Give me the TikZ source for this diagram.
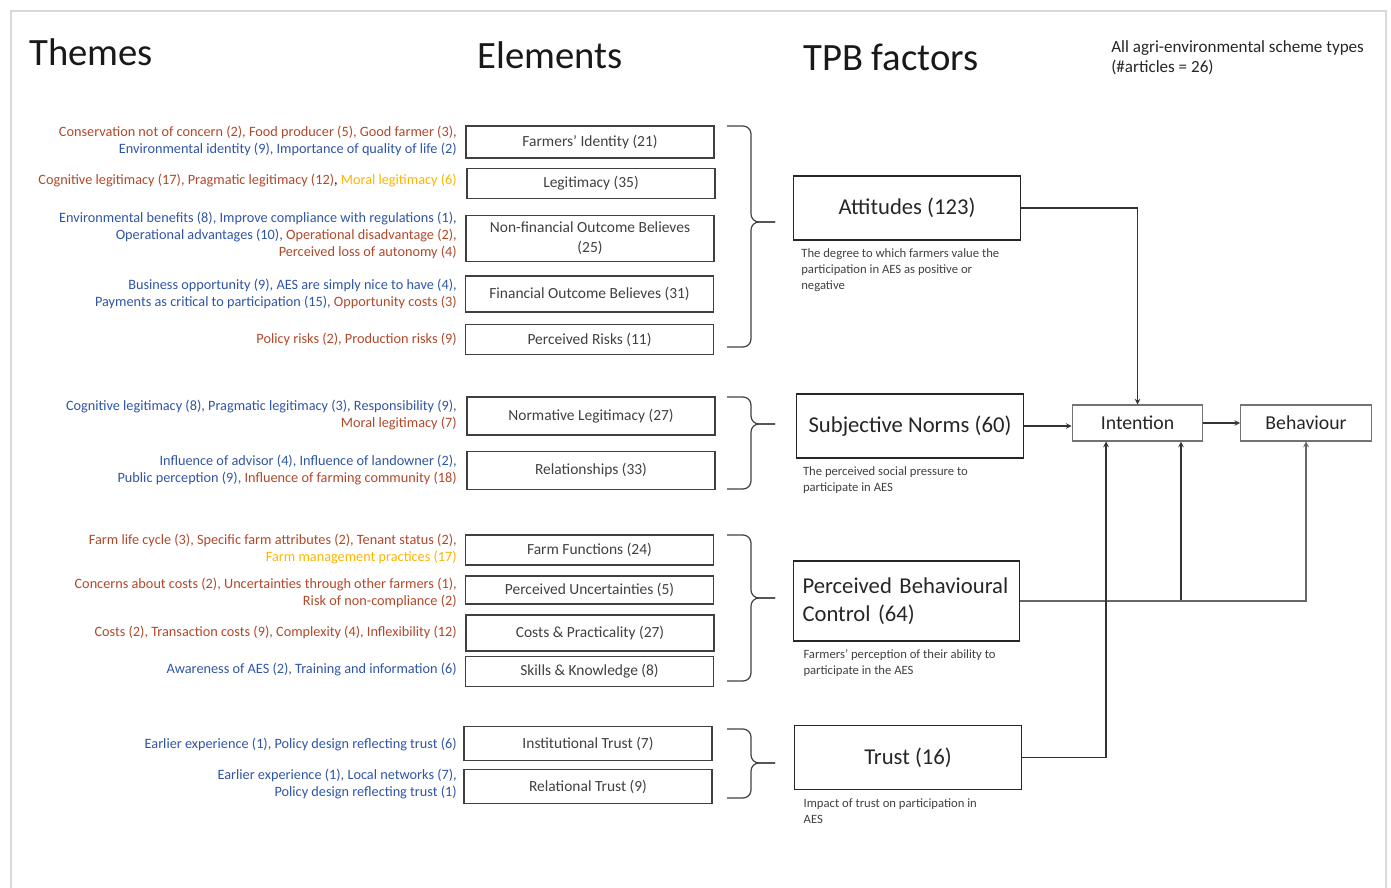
\documentclass[tikz,border=0pt]{standalone}
\usepackage{fontspec}
\setmainfont{Carlito}
\usetikzlibrary{arrows}
\definecolor{brn}{RGB}{176,72,42}
\definecolor{blu}{RGB}{47,85,165}
\definecolor{gld}{RGB}{255,180,0}
\definecolor{ink}{RGB}{64,64,64}
\begin{document}
\begin{tikzpicture}[x=0.75pt, y=-0.75pt, >=stealth]
    \tikzstyle{theme}=[anchor=east, inner sep=0pt, align=right, font=\fontsize{10.7}{12.75}\selectfont]
    \tikzstyle{elem}=[draw=ink, line width=0.9pt, minimum width=186pt, align=center, text=ink, inner sep=1pt, font=\fontsize{11.6}{15}\selectfont]
    \tikzstyle{tpb}=[draw=black!85, line width=0.9pt, minimum width=170pt, minimum height=48pt, text=black!85, font=\fontsize{17}{21}\selectfont]
    \tikzstyle{desc}=[anchor=north west, inner sep=0pt, align=left, text=ink, font=\fontsize{9.5}{12}\selectfont]
    \tikzstyle{outc}=[draw=black!55, line width=0.8pt, minimum width=98pt, minimum height=27pt, text=black!85, font=\fontsize{14.8}{17}\selectfont]
    \tikzstyle{heading}=[inner sep=0pt, text=black!90, font=\fontsize{29}{34}\selectfont]
    \tikzstyle{brc}=[draw=ink, line width=0.9pt, rounded corners=6pt]
    \tikzstyle{arr}=[->, draw=black!80, line width=0.9pt]

    \useasboundingbox (0,0) rectangle (1391,888);
    \draw[black!15, line width=1.5pt] (11,888) -- (11,11) -- (1386,11) -- (1386,888);

    % headings
    \node[heading, anchor=west] (hthemes) at (29,52) {Themes};
    \node[heading] (helems) at (550,55) {Elements};
    \node[heading] (htpb) at (891,57) {TPB factors};
    \node[anchor=north west, inner sep=0pt, align=left, text=black!85, font=\fontsize{12.8}{15}\selectfont] (scheme) at (1111,40) {All agri-environmental scheme types\\(\#articles = 26)};

    % themes
    \node[theme] (thident) at (457,140.5) {\textcolor{brn}{Conservation not of concern (2), Food producer (5), Good farmer (3),}\\\textcolor{blu}{Environmental identity (9), Importance of quality of life (2)}};
    \node[theme] (thlegit) at (457,181) {\textcolor{brn}{Cognitive legitimacy (17), Pragmatic legitimacy (12)}, \textcolor{gld}{Moral legitimacy (6)}};
    \node[theme] (thnonfin) at (457,235.5) {\textcolor{blu}{Environmental benefits (8), Improve compliance with regulations (1),}\\\textcolor{blu}{Operational advantages (10),} \textcolor{brn}{Operational disadvantage (2),}\\\textcolor{brn}{Perceived loss of autonomy (4)}};
    \node[theme] (thfin) at (457,293.5) {\textcolor{blu}{Business opportunity (9), AES are simply nice to have (4),}\\\textcolor{blu}{Payments as critical to participation (15),} \textcolor{brn}{Opportunity costs (3)}};
    \node[theme] (thrisk) at (457,339) {\textcolor{brn}{Policy risks (2), Production risks (9)}};
    \node[theme] (thnormleg) at (457,415.5) {\textcolor{blu}{Cognitive legitimacy (8), Pragmatic legitimacy (3), Responsibility (9),}\\\textcolor{brn}{Moral legitimacy (7)}};
    \node[theme] (threlat) at (457,470.5) {\textcolor{blu}{Influence of advisor (4), Influence of landowner (2),}\\\textcolor{blu}{Public perception (9),} \textcolor{brn}{Influence of farming community (18)}};
    \node[theme] (thfarmfun) at (457,549.5) {\textcolor{brn}{Farm life cycle (3), Specific farm attributes (2), Tenant status (2),}\\\textcolor{gld}{Farm management practices (17)}};
    \node[theme] (thuncert) at (457,592.5) {\textcolor{brn}{Concerns about costs (2), Uncertainties through other farmers (1),}\\\textcolor{brn}{Risk of non-compliance (2)}};
    \node[theme] (thcosts) at (457,632) {\textcolor{brn}{Costs (2), Transaction costs (9), Complexity (4), Inflexibility (12)}};
    \node[theme] (thskills) at (457,670) {\textcolor{blu}{Awareness of AES (2), Training and information (6)}};
    \node[theme] (thinsttrust) at (457,744) {\textcolor{blu}{Earlier experience (1), Policy design reflecting trust (6)}};
    \node[theme] (threltrust) at (457,783.5) {\textcolor{blu}{Earlier experience (1), Local networks (7),}\\\textcolor{blu}{Policy design reflecting trust (1)}};

    % elements
    \node[elem, minimum height=24pt] (ident) at (590,142) {Farmers’ Identity (21)};
    \node[elem, minimum height=23pt] (legit) at (591,183.5) {Legitimacy (35)};
    \node[elem, minimum height=34pt] (nonfin) at (590,238.5) {Non-financial Outcome Believes\\(25)};
    \node[elem, minimum height=27pt] (fin) at (589.5,294) {Financial Outcome Believes (31)};
    \node[elem, minimum height=22pt] (risk) at (589.5,339.5) {Perceived Risks (11)};
    \node[elem, minimum height=28.5pt] (normleg) at (591,416) {Normative Legitimacy (27)};
    \node[elem, minimum height=28pt] (relat) at (591,470.5) {Relationships (33)};
    \node[elem, minimum height=22.5pt] (farmfun) at (589.5,550) {Farm Functions (24)};
    \node[elem, minimum height=21pt] (uncert) at (589.5,590) {Perceived Uncertainties (5)};
    \node[elem, minimum height=27pt] (costs) at (590,633) {Costs \& Practicality (27)};
    \node[elem, minimum height=22pt] (skills) at (589.5,671.5) {Skills \& Knowledge (8)};
    \node[elem, minimum height=25pt] (insttrust) at (588,743.5) {Institutional Trust (7)};
    \node[elem, minimum height=26pt] (reltrust) at (588,786.5) {Relational Trust (9)};

    % braces
    \foreach \t/\m/\b in {126/222/347, 397/424/489, 535/598/681, 729/763/798} {
        \draw[brc] (727,\t) -- (751,\t) -- (751,\m) -- (775,\m);
        \draw[brc] (727,\b) -- (751,\b) -- (751,\m) -- (775,\m);
    }

    % TPB factors
    \node[tpb] (att) at (907,208) {Attitudes (123)};
    \node[tpb] (sn) at (910,426) {Subjective Norms (60)};
    \node[tpb, minimum height=60pt, text width=156pt, inner xsep=7pt, align=left] (pbc) at (906.5,601) {Perceived Behavioural\\Control (64)};
    \node[tpb] (trust) at (908,757.5) {Trust (16)};

    \node[desc] (attdesc) at ([xshift=6pt,yshift=-6pt]att.south west) {The degree to which farmers value the\\participation in AES as positive or\\negative};
    \node[desc] (sndesc) at ([xshift=5pt,yshift=-6pt]sn.south west) {The perceived social pressure to\\participate in AES};
    \node[desc] (pbcdesc) at ([xshift=8pt,yshift=-6pt]pbc.south west) {Farmers’ perception of their ability to\\participate in the AES};
    \node[desc] (trustdesc) at ([xshift=7pt,yshift=-6pt]trust.south west) {Impact of trust on participation in\\AES};

    \node[outc] (int) at (1137.5,423) {Intention};
    \node[outc] (beh) at (1306,423) {Behaviour};

    \draw[arr] (att.east) -| (int.north);
    \draw[arr] (sn.east) -- (sn.east -| int.west);
    \draw[arr] (int) -- (beh);
    \draw[arr] (pbc.east) -| ([xshift=32.6pt]int.south);
    \draw[arr, draw=black!60] (pbc.east) -| (beh.south);
    \draw[arr] (trust.east) -| ([xshift=-23.6pt]int.south);
\end{tikzpicture}
\end{document}
